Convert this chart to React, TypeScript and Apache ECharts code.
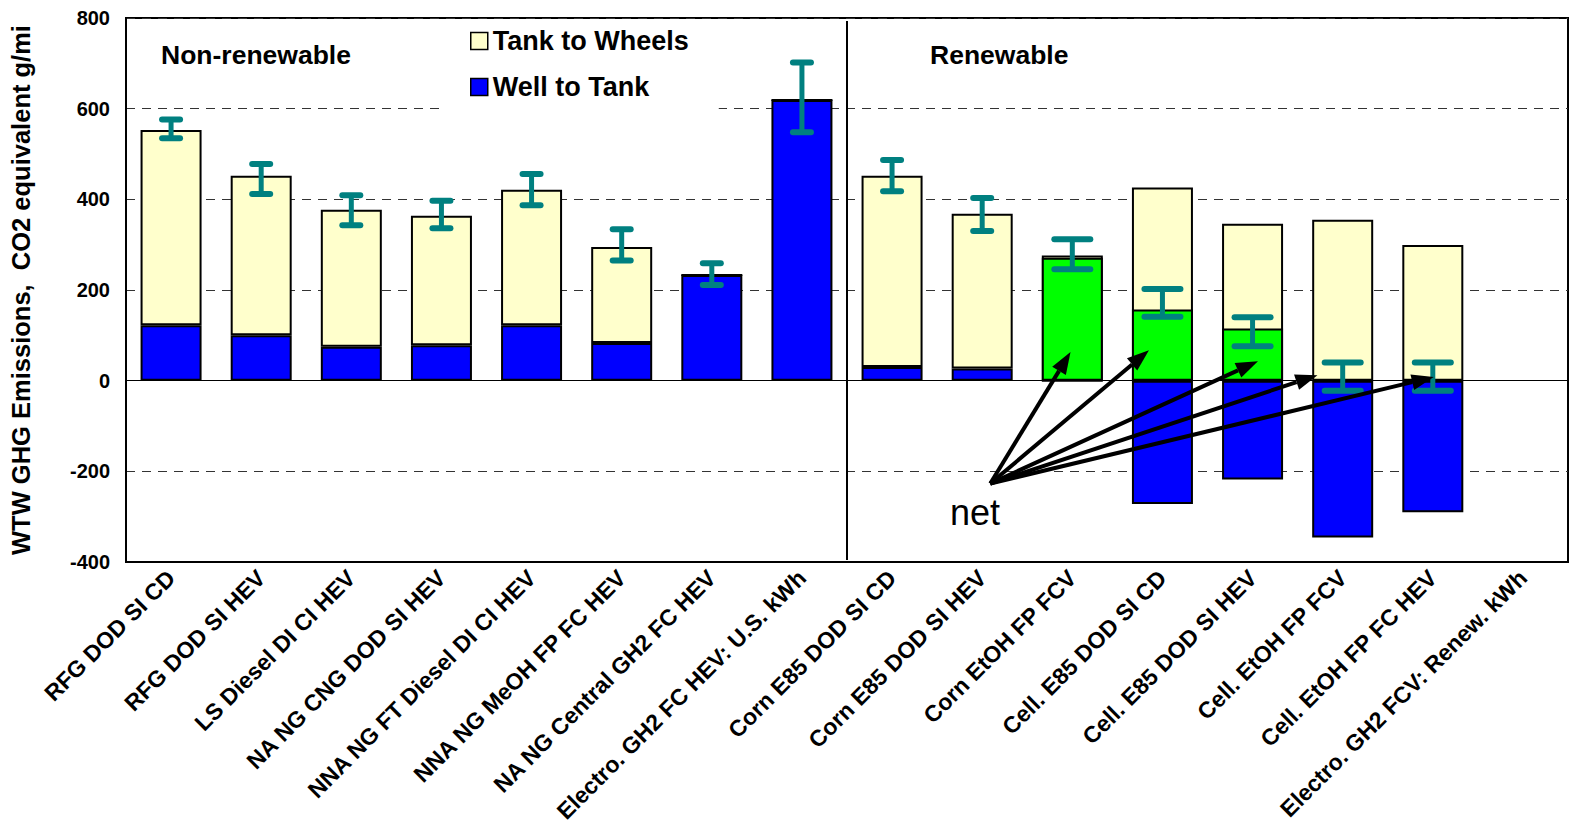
import React, { useEffect, useRef } from 'react';
import * as echarts from 'echarts';

const categories = [
  'RFG DOD SI CD',
  'RFG DOD SI HEV',
  'LS Diesel DI CI HEV',
  'NA NG CNG DOD SI HEV',
  'NNA NG FT Diesel DI CI HEV',
  'NNA NG MeOH FP FC HEV',
  'NA NG Central GH2 FC HEV',
  'Electro. GH2 FC HEV: U.S. kWh',
  'Corn E85 DOD SI CD',
  'Corn E85 DOD SI HEV',
  'Corn EtOH FP FCV',
  'Cell. E85 DOD SI CD',
  'Cell. E85 DOD SI HEV',
  'Cell. EtOH FP FCV',
  'Cell. EtOH FP FC HEV',
  'Electro. GH2 FCV: Renew. kWh',
];

const wellToTank = [122, 100, 75, 78, 122, 83, 233, 619, 30, 27, 0, -272, -218, -346, -290, null];
const tankToWheels = [431, 352, 302, 286, 299, 212, 0, 0, 422, 341, 276, 426, 346, 355, 299, null];
const netValues = [null, null, null, null, null, null, null, null, null, null, 271, 157, 115, null, null, null];
const errLow = [535, 412, 343, 336, 387, 265, 211, 548, 418, 330, 246, 141, 76, -22, -22, null];
const errHigh = [576, 478, 409, 397, 456, 334, 259, 702, 487, 403, 312, 202, 140, 40, 40, null];

const yTicks = [-400, -200, 0, 200, 400, 600, 800];

// "net" annotation arrows: origin and tips as [category position, value]
const netArrowOrigin = [9.09, -227];
const netArrowTips = [
  [9.98, 63],
  [10.85, 67],
  [12.06, 43],
  [12.72, 12],
  [14.01, 8],
];
const dividerAfter = 7; // divider between non-renewable and renewable groups
const wideCapFrom = 10;

const FONT = '"Liberation Sans", Arial, Helvetica, sans-serif';
const TEAL = '#008080';

export default function App() {
  const ref = useRef<HTMLDivElement>(null);

  useEffect(() => {
    document.body.style.margin = '0';
    const chart = echarts.init(ref.current as HTMLDivElement, null, { renderer: 'svg' });

    const coordAt = (api: any, cx: number, v: number) => {
      const i = Math.min(Math.floor(cx), categories.length - 2);
      const a = api.coord([i, v]);
      const b = api.coord([i + 1, v]);
      const f = cx - i;
      return [a[0] + (b[0] - a[0]) * f, a[1]];
    };

    const errData = categories
      .map((_, i) => (errLow[i] == null ? null : [i, errLow[i], errHigh[i]]))
      .filter((d) => d != null);

    const arrowData = netArrowTips.map((t) => [netArrowOrigin[0], netArrowOrigin[1], t[0], t[1]]);

    const option: any = {
      animation: false,
      backgroundColor: '#fff',
      grid: {
        left: 125,
        right: 2,
        top: 18,
        bottom: 265,
        show: true,
        borderColor: '#000',
        borderWidth: 2,
        backgroundColor: 'transparent',
      },
      legend: {
        data: ['Tank to Wheels', 'Well to Tank'],
        orient: 'vertical',
        left: 440,
        top: 20,
        padding: [7, 30, 14, 30],
        itemGap: 18,
        itemWidth: 17,
        itemHeight: 17,
        icon: 'rect',
        backgroundColor: '#fff',
        selectedMode: false,
        itemStyle: { borderColor: '#000', borderWidth: 1.5 },
        textStyle: {
          fontFamily: FONT,
          fontSize: 27,
          fontWeight: 'bold',
          color: '#000',
          lineHeight: 28,
        },
      },
      xAxis: {
        type: 'category',
        data: categories,
        axisLine: { onZero: false, lineStyle: { color: '#000', width: 2 } },
        axisTick: { show: false },
        axisLabel: {
          interval: 0,
          rotate: 45,
          margin: 12,
          fontFamily: FONT,
          fontSize: 23,
          fontWeight: 'bold',
          color: '#000',
        },
      },
      yAxis: {
        type: 'value',
        min: yTicks[0],
        max: yTicks[yTicks.length - 1],
        interval: yTicks[1] - yTicks[0],
        name: 'WTW GHG Emissions,  CO2 equivalent g/mi',
        nameLocation: 'middle',
        nameGap: 92,
        nameTextStyle: {
          fontFamily: FONT,
          fontSize: 25.5,
          fontWeight: 'bold',
          color: '#000',
        },
        axisLine: { show: true, lineStyle: { color: '#000', width: 2 } },
        axisTick: { show: false },
        axisLabel: {
          fontFamily: FONT,
          fontSize: 20,
          fontWeight: 'bold',
          color: '#000',
          margin: 16,
        },
        splitLine: { lineStyle: { color: '#333', type: [9, 7], width: 1 } },
      },
      series: [
        {
          name: 'Well to Tank',
          type: 'bar',
          stack: 'wtw',
          barWidth: 61,
          barGap: '-100%',
          data: wellToTank,
          itemStyle: { color: '#0000FF', borderColor: '#000', borderWidth: 2 },
          markLine: {
            silent: true,
            symbol: 'none',
            label: { show: false },
            lineStyle: { color: '#000', type: 'solid', width: 1.2 },
            data: [{ yAxis: 0 }],
          },
        },
        {
          name: 'Tank to Wheels',
          type: 'bar',
          stack: 'wtw',
          barWidth: 61,
          barGap: '-100%',
          data: tankToWheels,
          itemStyle: { color: '#FFFFCC', borderColor: '#000', borderWidth: 2 },
        },
        {
          name: 'Net',
          type: 'bar',
          barWidth: 61,
          barGap: '-100%',
          data: netValues,
          itemStyle: { color: '#00FF00', borderColor: '#000', borderWidth: 2 },
        },
        {
          name: 'Error',
          type: 'custom',
          z: 10,
          data: errData,
          encode: { x: 0, y: [1, 2] },
          renderItem: (params: any, api: any) => {
            const i = api.value(0);
            const lo = api.coord([i, api.value(1)]);
            const hi = api.coord([i, api.value(2)]);
            const half = i >= wideCapFrom ? 18 : 9;
            const st = { stroke: TEAL, lineWidth: 6, lineCap: 'round' };
            return {
              type: 'group',
              children: [
                { type: 'line', shape: { x1: lo[0], y1: lo[1], x2: hi[0], y2: hi[1] }, style: { stroke: TEAL, lineWidth: 5 } },
                { type: 'line', shape: { x1: hi[0] - half, y1: hi[1], x2: hi[0] + half, y2: hi[1] }, style: st },
                { type: 'line', shape: { x1: lo[0] - half, y1: lo[1], x2: lo[0] + half, y2: lo[1] }, style: st },
              ],
            };
          },
        },
        {
          name: 'Arrows',
          type: 'custom',
          z: 11,
          data: arrowData,
          encode: { x: [0, 2], y: [1, 3] },
          renderItem: (params: any, api: any) => {
            const p0 = coordAt(api, api.value(0), api.value(1));
            const p1 = coordAt(api, api.value(2), api.value(3));
            const dx = p1[0] - p0[0];
            const dy = p1[1] - p0[1];
            const len = Math.hypot(dx, dy);
            const ux = dx / len;
            const uy = dy / len;
            const headLen = 22;
            const headHalf = 8;
            const base = [p1[0] - ux * headLen, p1[1] - uy * headLen];
            const left = [base[0] - uy * headHalf, base[1] + ux * headHalf];
            const right = [base[0] + uy * headHalf, base[1] - ux * headHalf];
            return {
              type: 'group',
              children: [
                {
                  type: 'line',
                  shape: { x1: p0[0], y1: p0[1], x2: base[0], y2: base[1] },
                  style: { stroke: '#000', lineWidth: 4 },
                },
                {
                  type: 'polygon',
                  shape: { points: [p1, left, right] },
                  style: { fill: '#000' },
                },
              ],
            };
          },
        },
        {
          name: 'Divider',
          type: 'custom',
          z: 11,
          data: [[dividerAfter]],
          encode: { x: 0 },
          renderItem: (params: any, api: any) => {
            const a = api.coord([api.value(0), 0]);
            const b = api.coord([api.value(0) + 1, 0]);
            const x = (a[0] + b[0]) / 2;
            const cs = params.coordSys;
            return {
              type: 'line',
              shape: { x1: x, y1: cs.y + 3, x2: x, y2: cs.y + cs.height - 2 },
              style: { stroke: '#000', lineWidth: 2 },
            };
          },
        },
      ],
      graphic: [
        {
          type: 'text',
          x: 161,
          y: 55,
          style: { text: 'Non-renewable', font: `bold 26.5px ${FONT}`, fill: '#000', verticalAlign: 'middle' },
        },
        {
          type: 'text',
          x: 930,
          y: 55,
          style: { text: 'Renewable', font: `bold 26.5px ${FONT}`, fill: '#000', verticalAlign: 'middle' },
        },
        {
          type: 'text',
          x: 950,
          y: 512,
          style: { text: 'net', font: `36px ${FONT}`, fill: '#000', verticalAlign: 'middle' },
        },
      ],
    };

    chart.setOption(option);
    return () => chart.dispose();
  }, []);

  return <div ref={ref} style={{ width: 1570, height: 827 }} />;
}
